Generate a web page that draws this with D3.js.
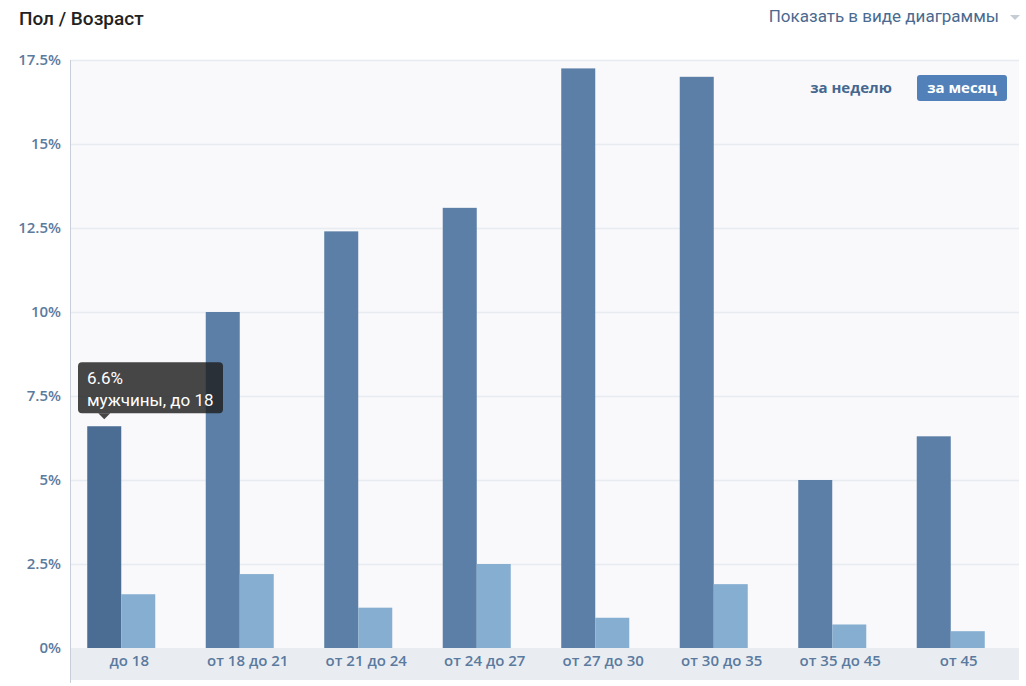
<!DOCTYPE html>
<html><head><meta charset="utf-8">
<script src="https://cdn.jsdelivr.net/npm/d3@7"></script>
<style>
body{margin:0;background:#fff;}
svg{display:block;}
</style></head>
<body>
<svg id="chart" width="1026" height="686"></svg>
<script>
const categories = ["до 18","от 18 до 21","от 21 до 24","от 24 до 27","от 27 до 30","от 30 до 35","от 35 до 45","от 45"];
const men = [6.6, 10.0, 12.4, 13.1, 17.25, 17.0, 5.0, 6.3];
const women = [1.6, 2.2, 1.2, 2.5, 0.9, 1.9, 0.7, 0.5];
const yTicks = [0, 2.5, 5, 7.5, 10, 12.5, 15, 17.5];
const tickLabels = ["0%","2.5%","5%","7.5%","10%","12.5%","15%","17.5%"];
const seriesNames = ["мужчины","женщины"];

const svg = d3.select("#chart");
const plotL = 70, plotR = 1019, plotT = 60, plotB = 648, axisB = 680;

const y = d3.scaleLinear().domain([0, 17.5]).range([plotB, plotT]);
const x = d3.scaleBand().domain(categories).range([62, 1010]).paddingInner(0.426).paddingOuter(0.213);
const xLabel = d3.scaleBand().domain(categories).range([plotL, plotL + 948]);
const xs = d3.scaleBand().domain(seriesNames).range([0, x.bandwidth()]);

// title
svg.append("text").attr("x", 19).attr("y", 25).attr("font-family", "Roboto").attr("font-weight", 500)
  .attr("font-size", 19).attr("fill", "#222").text("Пол / Возраст");
svg.append("text").attr("x", 999).attr("y", 22).attr("text-anchor", "end").attr("font-family", "Roboto")
  .attr("font-size", 17).attr("fill", "#4a6a8f").text("Показать в виде диаграммы");
svg.append("path").attr("d", "M1010,15 L1020,15 L1015,20 Z").attr("fill", "#c4ccd6");

// plot background
svg.append("rect").attr("x", plotL).attr("y", plotT).attr("width", plotR - plotL).attr("height", plotB - plotT).attr("fill", "#f9f9fb");
svg.append("rect").attr("x", plotL).attr("y", plotB).attr("width", plotR - plotL).attr("height", axisB - plotB).attr("fill", "#e9edf2");

// gridlines
svg.append("g").selectAll("line").data(yTicks.slice(1)).join("line")
  .attr("x1", plotL).attr("x2", plotR).attr("y1", d => y(d) + 0.5).attr("y2", d => y(d) + 0.5)
  .attr("stroke", "#e8ecf1").attr("stroke-width", 1.5);

// y axis
const yAxis = d3.axisLeft(y).tickValues(yTicks).tickFormat((d, i) => tickLabels[i]).tickSize(0).tickPadding(9);
const gy = svg.append("g").attr("transform", `translate(${plotL},0)`).call(yAxis);
gy.select(".domain").remove();
gy.selectAll("text").attr("font-family", "Open Sans").attr("font-weight", 600).attr("font-size", 15).attr("fill", "#5b7a9e");
svg.append("line").attr("x1", plotL + 0.5).attr("x2", plotL + 0.5).attr("y1", plotT).attr("y2", 683).attr("stroke", "#c8cfd8").attr("stroke-width", 1);

// x axis
const xAxis = d3.axisBottom(xLabel).tickSize(0).tickPadding(7);
const gx = svg.append("g").attr("transform", `translate(0,${plotB})`).call(xAxis);
gx.select(".domain").remove();
gx.selectAll("text").attr("font-family", "Open Sans").attr("font-weight", 600).attr("font-size", 15).attr("fill", "#5b7a9e");

// bars
const groups = svg.append("g").selectAll("g").data(categories).join("g").attr("transform", d => `translate(${x(d)},0)`);
groups.append("rect").attr("x", xs("мужчины")).attr("width", xs.bandwidth())
  .attr("y", (d, i) => y(men[i])).attr("height", (d, i) => plotB - y(men[i]))
  .attr("fill", (d, i) => i === 0 ? "#4c6d93" : "#5b7fa6");
groups.append("rect").attr("x", xs("женщины")).attr("width", xs.bandwidth())
  .attr("y", (d, i) => y(women[i])).attr("height", (d, i) => plotB - y(women[i]))
  .attr("fill", "#85aed1");

// buttons
svg.append("text").attr("x", 851).attr("y", 93).attr("text-anchor", "middle").attr("font-family", "Open Sans")
  .attr("font-weight", 700).attr("font-size", 15).attr("fill", "#45678f").text("за неделю");
svg.append("rect").attr("x", 917).attr("y", 75).attr("width", 90).attr("height", 26).attr("rx", 3).attr("fill", "#5181b8");
svg.append("text").attr("x", 962).attr("y", 93).attr("text-anchor", "middle").attr("font-family", "Open Sans")
  .attr("font-weight", 700).attr("font-size", 15).attr("fill", "#fff").text("за месяц");

// tooltip
const bx = x(categories[0]) + xs("мужчины") + xs.bandwidth() / 2;
const by = y(men[0]);
const tt = svg.append("g");
tt.append("rect").attr("x", 78).attr("y", by - 64).attr("width", 145).attr("height", 51).attr("rx", 4).attr("fill", "rgba(30,30,30,0.82)");
tt.append("path").attr("d", `M${bx - 6},${by - 13} L${bx + 6},${by - 13} L${bx},${by - 7} Z`).attr("fill", "rgba(30,30,30,0.82)");
tt.append("text").attr("x", 87).attr("y", by - 42).attr("font-family", "Roboto").attr("font-size", 17).attr("fill", "#fff")
  .text(men[0] + "%");
tt.append("text").attr("x", 87).attr("y", by - 20).attr("font-family", "Roboto").attr("font-size", 17).attr("fill", "#fff")
  .text(seriesNames[0] + ", " + categories[0]);
</script>
</body></html>
